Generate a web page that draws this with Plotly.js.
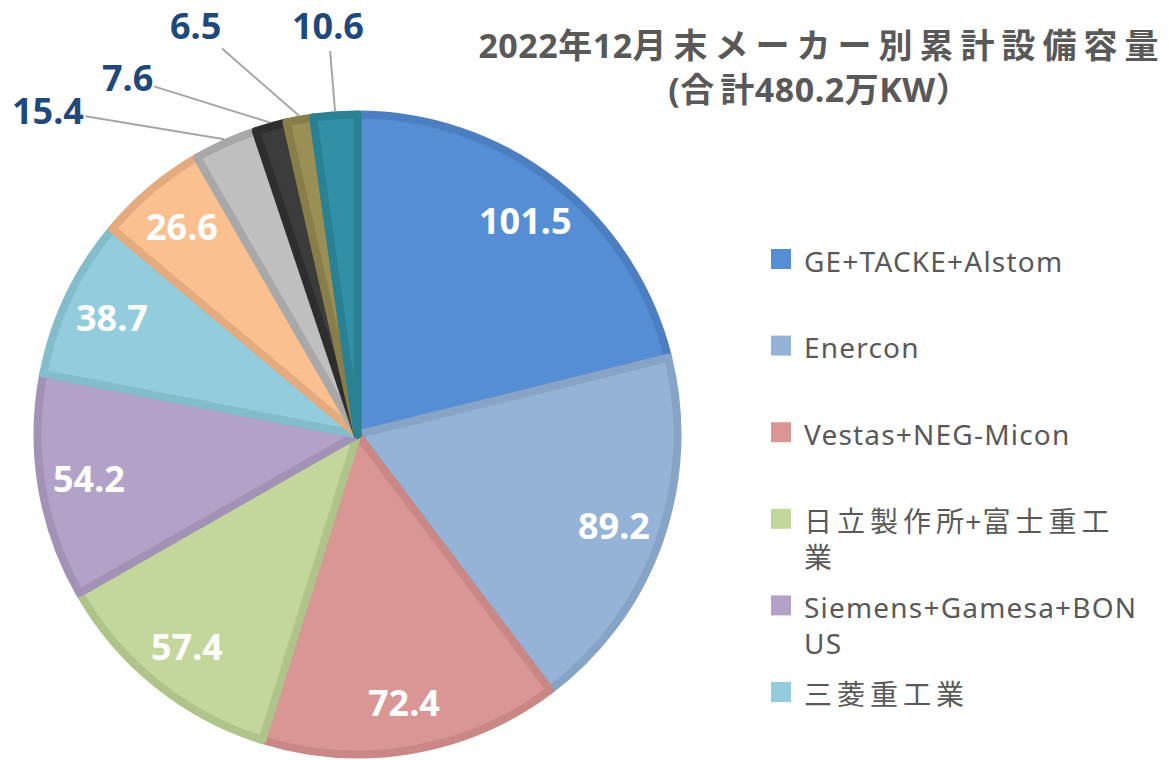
<!DOCTYPE html>
<html>
<head>
<meta charset="utf-8">
<script src="https://cdn.plot.ly/plotly-3.0.1.min.js"></script>
<style>html,body{margin:0;padding:0;background:#fff;}</style>
</head>
<body>
<div id="chart" style="width:1169px;height:760px;"></div>
<script>
// ---------------- data ----------------
const titleLine1 = "2022年12月末メーカー別累計設備容量";
const titleLine2 = "(合計480.2万KW）";
const legendNames = ["GE+TACKE+Alstom", "Enercon", "Vestas+NEG-Micon", "日立製作所+富士重工<br>業", "Siemens+Gamesa+BON<br>US", "三菱重工業"];
const values = [101.5, 89.2, 72.4, 57.4, 54.2, 38.7, 26.6, 15.4, 7.6, 6.5, 10.6];
const fillColors = ["#558ed5", "#95b3d7", "#d99694", "#c3d69b", "#b3a2c7", "#93cddd", "#fac090", "#bfbfbf", "#3c3c3c", "#9a8f55", "#3190a5"];
const lineColors = ["#4b7fc2", "#87a3c6", "#c98886", "#b0c38a", "#a292b6", "#83bccb", "#e4ab7e", "#a8a8a8", "#2e2e2e", "#877e49", "#2b8194"];

// ---------------- layout constants ----------------
const W = 1169, H = 760;
const CX = 357.5, CY = 434.5, R = 324, STROKE = 8;
const FONT = "'Noto Sans', 'Noto Sans CJK JP', sans-serif";
const outsidePos = [[48, 110], [127, 78], [195, 25], [328, 25]];
const LEG_X_SQ = 771, LEG_SQ = 20, LEG_X_TXT = 802, LEG_Y0 = 259, LEG_STEP = 86.6, LEG_FS = 28;

function spaced(s, lsCjk, lsLat) {
  // letter-spacing between CJK glyphs (not after the last one of a run)
  const parts = s.split(/(<br>)/);
  return parts.map(p => {
    if (p === "<br>") return p;
    return p.replace(/([\u3000-\u30ff\u3400-\u9fff\uff00-\uffef]+)|([^\u3000-\u30ff\u3400-\u9fff\uff00-\uffef]+)/g,
      (m, cj, lat, off, whole) => {
        if (lat) return `<span style="letter-spacing:${lsLat}px">${lat}</span>`;
        const atEnd = off + cj.length >= whole.length;
        if (atEnd || cj.length === 1 && false) return `<span style="letter-spacing:${lsCjk}px">${cj}</span>`;
        const head = cj.slice(0, -1), last = cj.slice(-1);
        return (head ? `<span style="letter-spacing:${lsCjk}px">${head}</span>` : "") +
               `<span style="letter-spacing:${lsLat}px">${last}</span>`;
      });
  }).join("");
}

const total = values.reduce((a, b) => a + b, 0);
const rPie = R - STROKE / 2;

const pie = {
  type: "pie",
  values: values,
  sort: false,
  direction: "clockwise",
  rotation: 0,
  textinfo: "none",
  hoverinfo: "value+percent",
  showlegend: false,
  marker: { colors: fillColors, line: { color: lineColors, width: STROKE } },
  domain: { x: [(CX - rPie) / W, (CX + rPie) / W], y: [(H - CY - rPie) / H, (H - CY + rPie) / H] }
};

const annotations = [];
const shapes = [];
let cum = 0, outIdx = 0;
values.forEach((v, i) => {
  const th = 2 * Math.PI * (cum + v / 2) / total;
  cum += v;
  const label = v.toFixed(1);
  if (v / total > 0.04) {
    const r = 0.84 * R;
    const px = CX + r * Math.sin(th), py = CY - r * Math.cos(th);
    annotations.push({
      x: px / W, y: 1 - py / H, xref: "paper", yref: "paper", text: label, showarrow: false,
      xanchor: "center", yanchor: "middle",
      font: { family: FONT, size: 36, color: "#ffffff", weight: "bold" }
    });
  } else {
    const px = CX + R * Math.sin(th), py = CY - R * Math.cos(th);
    const pos = outsidePos[outIdx++];
    annotations.push({
      x: px / W, y: 1 - py / H, xref: "paper", yref: "paper", text: label, showarrow: true,
      arrowhead: 0, arrowwidth: 2, arrowcolor: "#a6a6a6", standoff: 0,
      axref: "pixel", ayref: "pixel", ax: pos[0] - px, ay: pos[1] - py,
      font: { family: FONT, size: 36, color: "#1f497d", weight: "bold" }
    });
  }
});

legendNames.forEach((name, i) => {
  const cy = LEG_Y0 + i * LEG_STEP;
  shapes.push({
    type: "rect", xref: "paper", yref: "paper",
    x0: LEG_X_SQ / W, x1: (LEG_X_SQ + LEG_SQ) / W,
    y0: 1 - (cy + LEG_SQ / 2) / H, y1: 1 - (cy - LEG_SQ / 2) / H,
    fillcolor: fillColors[i], line: { width: 0 }
  });
  annotations.push({
    x: LEG_X_TXT / W, y: 1 - (cy - 0.65 * LEG_FS - 1) / H, xref: "paper", yref: "paper",
    xanchor: "left", yanchor: "top", align: "left", showarrow: false,
    text: spaced(name, 5, 1.2),
    font: { family: FONT, size: LEG_FS, color: "#595959" }
  });
});

const layout = {
  width: W, height: H,
  margin: { l: 0, r: 0, t: 0, b: 0 },
  paper_bgcolor: "#ffffff",
  title: {
    text: spaced(titleLine1, 7, 0.5) + "<br>" + spaced(titleLine2, 6, 0.5),
    x: 822 / W, xanchor: "center", xref: "paper",
    y: 1 - 58 / H, yanchor: "top", yref: "container",
    font: { family: FONT, size: 34, color: "#595959", weight: "bold" }
  },
  annotations: annotations,
  shapes: shapes
};

Plotly.newPlot("chart", [pie], layout, { displayModeBar: false, staticPlot: true });
</script>
</body>
</html>
